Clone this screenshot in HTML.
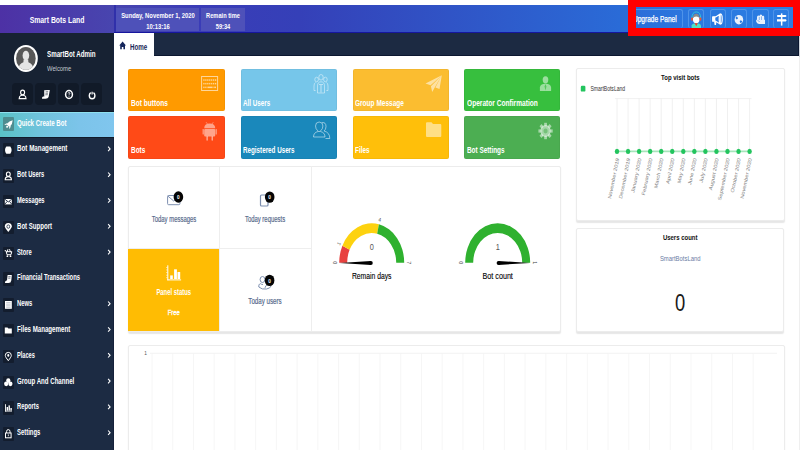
<!DOCTYPE html>
<html><head><meta charset="utf-8">
<style>
*{margin:0;padding:0;box-sizing:border-box}
html,body{width:800px;height:450px;overflow:hidden;background:#fff;font-family:"Liberation Sans",sans-serif}
.a{position:absolute}
.t{position:absolute;white-space:nowrap;line-height:1}
.c{position:absolute;white-space:nowrap;line-height:1;text-align:center;width:200px}
#hdr{left:0;top:5px;width:800px;height:28px;background:linear-gradient(to right,#4d31a5 0px,#4845af 114px,#3a3cb7 200px,#3540b8 300px,#2f58c9 480px,#2a6bd7 620px,#2b79e0 700px,#2b7de2 800px)}
.hbox{position:absolute;top:7.5px;height:23px;background:#4e51b9;}
.ht{color:#fff;font-size:8px;font-weight:bold}
#side{left:0;top:33px;width:114px;height:417px;background:#1c2b43}
#prof{left:0;top:33px;width:114px;height:78px;background:#172233}
.pb{position:absolute;top:82.5px;width:20.5px;height:22px;background:#111a28;border-radius:4px}
#qc{left:0;top:110.8px;width:114px;height:27.4px;background:linear-gradient(to right,#5ac2c6,#6fc3dc 35%,#7cc4ea 70%,#80c6ee);border-top:1.2px solid #0f1828;border-bottom:1.2px solid #101a2a;box-shadow:inset 0 1px 0 #8fe0ee}
.mi{position:absolute;left:2.5px;width:11.5px;height:14px;background:#131d2e;border-radius:1px}
.mt{position:absolute;left:16.5px;color:#fff;font-size:8.6px;font-weight:bold;white-space:nowrap;line-height:1;transform-origin:0 50%;transform:scaleX(.68)}
.ch{position:absolute;left:107px;color:#dfe6ee;font-size:7px;line-height:1}
#strip{left:114px;top:33px;width:685px;height:23px;background:#1c2a42;border-bottom:1px solid #0c1730;border-right:1px solid #0c1730}
#tab{left:114px;top:33px;width:40px;height:24px;background:#fff}
.card{position:absolute;border-radius:2px;box-shadow:inset 0 0 0 .8px rgba(0,0,0,.05)}
.cl{position:absolute;left:2.4px;color:#fff;font-size:9.2px;font-weight:bold;line-height:1;white-space:nowrap;transform-origin:0 50%;transform:scaleX(.705)}
.panel{position:absolute;background:#fff;border:1px solid #ececec;border-radius:2px;box-shadow:0 1.5px 1.2px rgba(0,0,0,.1)}
.st{color:#5b6b86;font-size:8px}
.badge{position:absolute;width:9px;height:10px;border-radius:50%;background:#0a0a0a;color:#fff;font-size:5.5px;line-height:10px;text-align:center;font-weight:bold}
</style></head><body>
<!-- header -->
<div id="hdr" class="a"></div>
<div class="a" style="left:114px;top:5px;width:2px;height:28px;background:#3030aa"></div>
<div class="c" style="left:-43.4px;top:15.5px;color:#fff;font-size:9px;font-weight:bold;transform:scaleX(.76)">Smart Bots Land</div>
<div class="hbox" style="left:116px;width:82.7px"></div>
<div class="hbox" style="left:201px;width:44px"></div>
<div class="c ht" style="left:57.5px;top:11.5px;transform:scaleX(.73)">Sunday, November 1, 2020</div>
<div class="c ht" style="left:57.5px;top:23px;transform:scaleX(.73)">10:13:16</div>
<div class="c ht" style="left:122.6px;top:11.5px;transform:scaleX(.71)">Remain time</div>
<div class="c ht" style="left:122.6px;top:23px;transform:scaleX(.71)">59:34</div>

<!-- header buttons -->
<div class="a" style="left:628px;top:9px;width:55px;height:19px;border:1px solid #4e93e9;border-bottom:none;border-radius:2.5px"></div>
<div class="t" style="left:633.4px;top:15.8px;color:#fff;font-size:8.2px;transform-origin:0 50%;transform:scaleX(.8);-webkit-text-stroke:.25px #fff">Upgrade Panel</div>
<div class="a" style="left:688.3px;top:9px;width:16.2px;height:19px;border:1px solid #4e93e9;border-bottom:none;border-radius:2.5px"></div>
<div class="a" style="left:709.5px;top:9px;width:16.3px;height:19px;border:1px solid #4e93e9;border-bottom:none;border-radius:2.5px"></div>
<div class="a" style="left:730.6px;top:9px;width:16.2px;height:19px;border:1px solid #4e93e9;border-bottom:none;border-radius:2.5px"></div>
<div class="a" style="left:752.2px;top:9px;width:16.4px;height:19px;border:1px solid #4e93e9;border-bottom:none;border-radius:2.5px"></div>
<div class="a" style="left:773.4px;top:9px;width:16px;height:19px;border:1px solid #4e93e9;border-bottom:none;border-radius:2.5px"></div>
<svg class="a" style="left:0;top:0" width="800" height="40" viewBox="0 0 800 40">
  <!-- support avatar -->
  <path d="M691.9 18.5 Q691.9 11.9 696.3 11.9 Q700.7 11.9 700.7 18.5" stroke="#33c4d8" stroke-width="1" fill="none"/>
  <path d="M691.6 28 L691.6 25.6 Q692.4 23.2 696.3 23.2 Q700.2 23.2 701 25.6 L701 28Z" fill="#4fe2c8"/>
  <ellipse cx="696.2" cy="19.2" rx="3.3" ry="3.9" fill="#fff"/>
  <path d="M692.9 18.3 Q692.9 13.7 696.2 13.7 Q699.5 13.7 699.5 18.3 Q698.6 16.6 696.2 16.4 Q693.9 16.6 692.9 18.3Z" fill="#8a8a8a"/>
  <rect x="691.2" y="17.6" width="1.8" height="3.1" rx=".7" fill="#f0542d"/>
  <rect x="699.5" y="17.6" width="1.8" height="3.1" rx=".7" fill="#f0542d"/>
  <path d="M694.6 23.3 L697.9 23.3 L696.25 26.2Z" fill="#f04424"/>
  <!-- megaphone -->
  <g fill="none" stroke="#fff" stroke-width="1.2" stroke-linejoin="round">
    <path d="M712.7 16.9 L715.6 16.9 L720.2 14.1 L720.2 23.9 L715.6 21.2 L712.7 21.2 Z"/>
    <ellipse cx="720.7" cy="19" rx="1.5" ry="4.9"/>
  </g>
  <rect x="712.7" y="16.9" width="2.6" height="4.3" fill="#fff"/>
  <path d="M714.1 21.2 L716.4 21.2 L716 24.9 L714.6 24.9 Z" fill="#fff"/>
  <!-- globe -->
  <ellipse cx="738.9" cy="19.7" rx="4.3" ry="4.8" fill="#e9f1fc"/>
  <path d="M736.2 16.6 Q737.8 16.8 738 18.4 Q737.2 19.6 735.9 19 Q735.4 17.6 736.2 16.6Z M740 20.6 Q741.8 20 742.3 21.6 Q741.5 23.4 740.2 22.8 Q739.4 21.8 740 20.6Z" fill="#2b7be0"/>
  <!-- hand -->
  <path d="M757 17.2 Q757 15.4 758.4 15.4 Q759.2 15.4 759.4 16.2 Q759.6 14.2 761 14.4 Q762.2 14.6 762.2 16 Q762.8 15.4 763.6 15.8 Q764.4 16.4 764.2 17.6 L764.2 20 L765 19.6 L765 24 L759 24 Q756.8 23.6 756.3 21.8 Q755.7 20 757 19.4 Z" fill="#e9f1fc"/>
  <path d="M759.3 17 L759.3 20 M761.5 16.4 L761.5 20 M757.5 20.5 Q759 20.6 759.6 22" stroke="#2b7be0" stroke-width=".5" fill="none"/>
  <!-- signpost -->
  <rect x="780.9" y="13.4" width="1.5" height="12.2" fill="#fff"/>
  <path d="M777.2 14.9 L785.6 14.9 L786.7 16 L785.6 17.1 L777.2 17.1 Z" fill="#fff"/>
  <path d="M777 19.2 L785.8 19.2 L786.7 20.3 L785.8 21.4 L777 21.4 Z" fill="#fff"/>
</svg>

<!-- sidebar -->
<div id="side" class="a"></div>
<div id="prof" class="a"></div>
<div class="a" style="left:113px;top:33px;width:1px;height:417px;background:#15213a"></div>
<svg class="a" style="left:0;top:33px" width="114" height="78" viewBox="0 33 114 78">
  <ellipse cx="25.9" cy="58.4" rx="11.9" ry="13.5" fill="#fff"/>
  <ellipse cx="25.9" cy="58.4" rx="9.8" ry="11.4" fill="#575757"/>
  <clipPath id="av"><ellipse cx="25.9" cy="58.4" rx="9.8" ry="11.4"/></clipPath>
  <g clip-path="url(#av)" fill="#e4e4e4">
    <ellipse cx="25.9" cy="55.6" rx="3.3" ry="4.9"/>
    <path d="M23.6 59.5 L23.4 62.2 Q18.5 63.5 17.5 72 L34.3 72 Q33.3 63.5 28.4 62.2 L28.2 59.5Z"/>
  </g>
</svg>
<div class="t" style="left:46.8px;top:49.5px;color:#fff;font-size:8.6px;font-weight:bold;transform-origin:0 50%;transform:scaleX(.72)">SmartBot Admin</div>
<div class="t" style="left:46.8px;top:65px;color:#c3c8d0;font-size:7px;transform-origin:0 50%;transform:scaleX(.83)">Welcome</div>
<div class="pb" style="left:12.3px"></div>
<div class="pb" style="left:35.3px"></div>
<div class="pb" style="left:58.3px"></div>
<div class="pb" style="left:81.3px"></div>
<svg class="a" style="left:0;top:80px" width="114" height="30" viewBox="0 80 114 30">
  <g fill="none" stroke="#fff" stroke-width="1.1">
    <ellipse cx="22.6" cy="92.4" rx="2" ry="2.3"/>
    <path d="M19.2 98.6 L19.6 96.6 Q20.2 95.2 22.6 95.2 Q25 95.2 25.6 96.6 L26 98.6 Z"/>
    <ellipse cx="69" cy="94.5" rx="3.4" ry="3.9" stroke-width="1.5"/>
    <path d="M90.7 92.6 Q89.3 93.5 89.3 95.4 Q89.3 98.7 92.1 98.7 Q94.9 98.7 94.9 95.4 Q94.9 93.5 93.5 92.6" stroke-width="1.4"/>
  </g>
  <path d="M92.1 91.8 L92.1 94.6" stroke="#fff" stroke-width="1.2"/>
  <path d="M44.2 90.3 L49.8 90.1 L48.6 97 Q48 98.8 45.5 98.8 L42 98.8 Q41.6 97.3 43 96.6 L44.3 96.6 Z" fill="#fff"/>
  <path d="M45.6 91.8 L48.2 91.7 M45.5 93.3 L48 93.2 M45.3 94.8 L47.8 94.7" stroke="#111a28" stroke-width=".55"/>
  <path d="M68.1 93.4 Q68.1 92.5 69 92.5 Q69.9 92.5 69.9 93.3 Q69.9 94 69 94.5 L69 95.3" fill="none" stroke="#fff" stroke-width=".8"/>
  <rect x="68.6" y="95.9" width=".8" height=".8" fill="#fff"/>
</svg>

<div id="qc" class="a"></div>
<div class="a" style="left:2.5px;top:117.4px;width:11.5px;height:13.8px;background:#4e8d90;border-radius:1px"></div>
<svg class="a" style="left:2.5px;top:117.4px" width="12" height="14" viewBox="0 0 12 14"><g transform="rotate(40 6 7.5)" fill="#fff"><path d="M6 1.8 Q8.2 4.2 8 9 L4 9 Q3.8 4.2 6 1.8Z"/><path d="M4.1 6.8 L2.4 10.6 L4.1 9.6Z M7.9 6.8 L9.6 10.6 L7.9 9.6Z"/><rect x="5.1" y="9.4" width="1.8" height="2"/></g></svg>
<div class="mt" style="top:119.2px;transform:scaleX(.71)">Quick Create Bot</div>


<div class="mi" style="top:143.3px;height:13.6px"></div>
<div class="mt" style="top:144.3px;transform:scaleX(0.727)">Bot Management</div>
<div class="mi" style="top:169.1px;height:13.6px"></div>
<div class="mt" style="top:170.1px;transform:scaleX(0.671)">Bot Users</div>
<div class="mi" style="top:194.9px;height:13.6px"></div>
<div class="mt" style="top:195.9px;transform:scaleX(0.671)">Messages</div>
<div class="mi" style="top:220.7px;height:13.6px"></div>
<div class="mt" style="top:221.7px;transform:scaleX(0.706)">Bot Support</div>
<div class="mi" style="top:246.5px;height:13.6px"></div>
<div class="mt" style="top:247.5px;transform:scaleX(0.673)">Store</div>
<div class="mi" style="top:272.3px;height:13.6px"></div>
<div class="mt" style="top:273.3px;transform:scaleX(0.68)">Financial Transactions</div>
<div class="mi" style="top:298.1px;height:13.6px"></div>
<div class="mt" style="top:299.1px;transform:scaleX(0.68)">News</div>
<div class="mi" style="top:323.9px;height:13.6px"></div>
<div class="mt" style="top:324.9px;transform:scaleX(0.714)">Files Management</div>
<div class="mi" style="top:349.7px;height:13.6px"></div>
<div class="mt" style="top:350.7px;transform:scaleX(0.656)">Places</div>
<div class="mi" style="top:375.5px;height:13.6px"></div>
<div class="mt" style="top:376.5px;transform:scaleX(0.708)">Group And Channel</div>
<div class="mi" style="top:401.3px;height:13.6px"></div>
<div class="mt" style="top:402.3px;transform:scaleX(0.674)">Reports</div>
<div class="mi" style="top:427.1px;height:13.6px"></div>
<div class="mt" style="top:428.1px;transform:scaleX(0.688)">Settings</div>
<!-- tab strip -->
<div id="strip" class="a"></div>
<div id="tab" class="a"></div>
<div class="a" style="left:114px;top:31.6px;width:686px;height:1.4px;background:#16169e"></div>
<svg class="a" style="left:119px;top:40.5px" width="8" height="9" viewBox="0 0 8 9"><path d="M0.2 4.4 L3.6 0.4 L7 4.4 L6 4.4 L6 8.3 L4.4 8.3 L4.4 6 L2.8 6 L2.8 8.3 L1.2 8.3 L1.2 4.4Z" fill="#14265c"/></svg>
<div class="t" style="left:129.7px;top:43px;color:#1c2a58;font-size:8.6px;font-weight:bold;transform-origin:0 50%;transform:scaleX(.72)">Home</div>

<!-- cards -->
<div class="card" style="left:128.4px;top:68.6px;width:96.2px;height:42.6px;background:#ff9a00"><div class="cl" style="top:30px;transform:scaleX(0.717)">Bot buttons</div></div>
<div class="card" style="left:241px;top:68.6px;width:96.2px;height:42.6px;background:#76c6ea"><div class="cl" style="top:30px;transform:scaleX(0.681)">All Users</div></div>
<div class="card" style="left:353.1px;top:68.6px;width:96.2px;height:42.6px;background:#fbbd30"><div class="cl" style="top:30px;transform:scaleX(0.71)">Group Message</div></div>
<div class="card" style="left:464.2px;top:68.6px;width:96.2px;height:42.6px;background:#37bf3e"><div class="cl" style="top:30px;transform:scaleX(0.719)">Operator Confirmation</div></div>
<div class="card" style="left:128.4px;top:116.2px;width:96.2px;height:42.6px;background:#ff4a17"><div class="cl" style="top:30px;transform:scaleX(0.7)">Bots</div></div>
<div class="card" style="left:241px;top:116.2px;width:96.2px;height:42.6px;background:#1a88bb"><div class="cl" style="top:30px;transform:scaleX(0.682)">Registered Users</div></div>
<div class="card" style="left:353.1px;top:116.2px;width:96.2px;height:42.6px;background:#ffbf0a"><div class="cl" style="top:30px;transform:scaleX(0.7)">Files</div></div>
<div class="card" style="left:464.2px;top:116.2px;width:96.2px;height:42.6px;background:#4cae52"><div class="cl" style="top:30px;transform:scaleX(0.694)">Bot Settings</div></div>
<!-- middle panel -->
<div class="panel" style="left:128.4px;top:165.6px;width:432.3px;height:166.4px"></div>
<div class="a" style="left:219.3px;top:166px;width:1px;height:165px;background:#eeeeee"></div>
<div class="a" style="left:310.6px;top:166px;width:1px;height:165px;background:#eeeeee"></div>
<div class="a" style="left:129px;top:248.4px;width:182px;height:1px;background:#eeeeee"></div>
<div class="a" style="left:128.4px;top:248.8px;width:90.9px;height:82px;background:#ffbc03"></div>
<!-- right panels -->
<div class="panel" style="left:575.5px;top:68.4px;width:209px;height:153px"></div>
<div class="panel" style="left:575.7px;top:228.4px;width:208.8px;height:104px"></div>
<!-- bottom chart -->
<div class="panel" style="left:128.2px;top:345.3px;width:656.6px;height:120px"></div>

<svg class="a" style="left:0;top:0;font-family:'Liberation Sans',sans-serif" width="800" height="450" viewBox="0 0 800 450"><path d="M339.19 262.80 A32.51 39.50 0 0 1 342.41 245.66 L349.60 249.87 A24.53 29.80 0 0 0 347.17 262.80Z" fill="#e8413f"/>
<path d="M342.41 245.66 A32.51 39.50 0 0 1 378.93 224.29 L377.16 233.75 A24.53 29.80 0 0 0 349.60 249.87Z" fill="#fdd20f"/>
<path d="M378.93 224.29 A32.51 39.50 0 0 1 404.21 262.80 L396.23 262.80 A24.53 29.80 0 0 0 377.16 233.75Z" fill="#2fb12f"/>
<path d="M339.52 262.90 L370.90 264.95 L370.90 261.05 Z" fill="#000"/>
<ellipse cx="370.90" cy="263.00" rx="1.85" ry="1.95" fill="#000"/>
<text transform="translate(335.49,262.80) scale(0.823,1) rotate(-90.0)" font-size="5.4" fill="#444" text-anchor="middle" dominant-baseline="central">0</text>
<text transform="translate(339.07,243.71) scale(0.823,1) rotate(-64.3)" font-size="5.4" fill="#444" text-anchor="middle" dominant-baseline="central">1</text>
<text transform="translate(379.76,219.90) scale(0.823,1) rotate(12.9)" font-size="5.4" fill="#444" text-anchor="middle" dominant-baseline="central">4</text>
<text transform="translate(407.91,262.80) scale(0.823,1) rotate(90.0)" font-size="5.4" fill="#444" text-anchor="middle" dominant-baseline="central">7</text>
<text transform="translate(371.70,249.50) scale(0.8,1)" font-size="9.2" fill="#555" text-anchor="middle" font-weight="normal" >0</text>
<text transform="translate(371.70,279.10) scale(0.78,1)" font-size="8.7" fill="#000" text-anchor="middle" font-weight="normal" stroke="#000" stroke-width="0.12">Remain days</text>
<path d="M465.19 262.80 A32.51 39.50 0 0 1 530.21 262.80 L522.23 262.80 A24.53 29.80 0 0 0 473.17 262.80Z" fill="#2fb12f"/>
<path d="M529.88 262.90 L498.50 261.05 L498.50 264.95 Z" fill="#000"/>
<ellipse cx="498.50" cy="263.00" rx="1.85" ry="1.95" fill="#000"/>
<text transform="translate(461.49,262.80) scale(0.823,1) rotate(-90.0)" font-size="5.4" fill="#444" text-anchor="middle" dominant-baseline="central">0</text>
<text transform="translate(533.91,262.80) scale(0.823,1) rotate(90.0)" font-size="5.4" fill="#444" text-anchor="middle" dominant-baseline="central">1</text>
<text transform="translate(497.70,249.50) scale(0.8,1)" font-size="9.2" fill="#555" text-anchor="middle" font-weight="normal" >1</text>
<text transform="translate(497.70,279.10) scale(0.826,1)" font-size="8.7" fill="#000" text-anchor="middle" font-weight="normal" stroke="#000" stroke-width="0.12">Bot count</text>
<g fill="none" stroke="#7d8fb0" stroke-width="1"><rect x="167.6" y="195.5" width="12.3" height="9.2" rx="1"/><path d="M167.8 196 L173.7 201 L179.7 196"/></g>
<ellipse cx="178.4" cy="197" rx="4.8" ry="5.7" fill="#050505"/>
<text transform="translate(178.4,199.1) scale(.8,1)" font-size="6" font-weight="bold" fill="#fff" text-anchor="middle">0</text>
<text transform="translate(174.00,221.70) scale(0.69,1)" font-size="8.6" fill="#55688a" text-anchor="middle" font-weight="normal" stroke="#55688a" stroke-width="0.18">Today messages</text>
<g fill="none" stroke="#7d8fb0" stroke-width="1.2"><rect x="260.5" y="195" width="7.5" height="11" rx="1"/></g>
<ellipse cx="269.7" cy="197.1" rx="4.8" ry="5.7" fill="#050505"/>
<text transform="translate(269.7,199.2) scale(.8,1)" font-size="6" font-weight="bold" fill="#fff" text-anchor="middle">0</text>
<text transform="translate(265.00,221.70) scale(0.69,1)" font-size="8.6" fill="#55688a" text-anchor="middle" font-weight="normal" stroke="#55688a" stroke-width="0.18">Today requests</text>
<g fill="#fff"><rect x="167.3" y="265.3" width="1" height="15"/><rect x="167.3" y="279.4" width="13.8" height="1"/><rect x="170.2" y="275.4" width="2.6" height="3.6"/><rect x="174.1" y="269.3" width="2.8" height="9.7"/><rect x="177.5" y="272" width="2.7" height="7"/><rect x="166.3" y="267" width="1.2" height=".7"/><rect x="166.3" y="269.6" width="1.2" height=".7"/><rect x="166.3" y="272.2" width="1.2" height=".7"/><rect x="166.3" y="274.8" width="1.2" height=".7"/><rect x="166.3" y="277.4" width="1.2" height=".7"/></g>
<text transform="translate(173.75,294.60) scale(0.72,1)" font-size="8.2" fill="#fff" text-anchor="middle" font-weight="bold" >Panel status</text>
<text transform="translate(173.75,314.60) scale(0.78,1)" font-size="7.5" fill="#fff" text-anchor="middle" font-weight="normal" stroke="#fff" stroke-width="0.3">Free</text>
<g fill="none" stroke="#7d8fb0" stroke-width="1"><ellipse cx="262.5" cy="279.5" rx="2.4" ry="3"/><path d="M259.6 283.8 Q258.6 285 258.8 287 Q262 289.8 266.5 289 Q270.5 288.3 271 286"/><path d="M260.2 283.5 Q261.5 284.6 263 284.5"/><path d="M265 287.8 Q265.5 285 268 284.5"/></g>
<ellipse cx="269.6" cy="280.4" rx="4.8" ry="5.7" fill="#050505"/>
<text transform="translate(269.6,282.5) scale(.8,1)" font-size="6" font-weight="bold" fill="#fff" text-anchor="middle">0</text>
<text transform="translate(265.00,304.00) scale(0.72,1)" font-size="8.6" fill="#55688a" text-anchor="middle" font-weight="normal" stroke="#55688a" stroke-width="0.18">Today users</text>
<text transform="translate(680.30,79.60) scale(0.76,1)" font-size="7.9" fill="#111" text-anchor="middle" font-weight="bold" >Top visit bots</text>
<rect x="580.8" y="85.8" width="4.6" height="5.8" rx="1.2" fill="#23c45e"/>
<text transform="translate(590.40,90.90) scale(0.69,1)" font-size="7.3" fill="#333" text-anchor="start" font-weight="normal" >SmartBotsLand</text>
<line x1="615" y1="98.6" x2="751.5" y2="98.6" stroke="#ececec" stroke-width=".8"/>
<line x1="617.00" y1="98.6" x2="617.00" y2="154" stroke="#ececec" stroke-width=".8"/>
<line x1="628.05" y1="98.6" x2="628.05" y2="154" stroke="#ececec" stroke-width=".8"/>
<line x1="639.10" y1="98.6" x2="639.10" y2="154" stroke="#ececec" stroke-width=".8"/>
<line x1="650.15" y1="98.6" x2="650.15" y2="154" stroke="#ececec" stroke-width=".8"/>
<line x1="661.20" y1="98.6" x2="661.20" y2="154" stroke="#ececec" stroke-width=".8"/>
<line x1="672.25" y1="98.6" x2="672.25" y2="154" stroke="#ececec" stroke-width=".8"/>
<line x1="683.30" y1="98.6" x2="683.30" y2="154" stroke="#ececec" stroke-width=".8"/>
<line x1="694.35" y1="98.6" x2="694.35" y2="154" stroke="#ececec" stroke-width=".8"/>
<line x1="705.40" y1="98.6" x2="705.40" y2="154" stroke="#ececec" stroke-width=".8"/>
<line x1="716.45" y1="98.6" x2="716.45" y2="154" stroke="#ececec" stroke-width=".8"/>
<line x1="727.50" y1="98.6" x2="727.50" y2="154" stroke="#ececec" stroke-width=".8"/>
<line x1="738.55" y1="98.6" x2="738.55" y2="154" stroke="#ececec" stroke-width=".8"/>
<line x1="749.60" y1="98.6" x2="749.60" y2="154" stroke="#ececec" stroke-width=".8"/>
<line x1="617" y1="151.4" x2="749.6" y2="151.4" stroke="#a7e6bb" stroke-width="1.6"/>
<ellipse cx="617.00" cy="151.4" rx="2.2" ry="2.6" fill="#23c45e"/>
<ellipse cx="628.05" cy="151.4" rx="2.2" ry="2.6" fill="#23c45e"/>
<ellipse cx="639.10" cy="151.4" rx="2.2" ry="2.6" fill="#23c45e"/>
<ellipse cx="650.15" cy="151.4" rx="2.2" ry="2.6" fill="#23c45e"/>
<ellipse cx="661.20" cy="151.4" rx="2.2" ry="2.6" fill="#23c45e"/>
<ellipse cx="672.25" cy="151.4" rx="2.2" ry="2.6" fill="#23c45e"/>
<ellipse cx="683.30" cy="151.4" rx="2.2" ry="2.6" fill="#23c45e"/>
<ellipse cx="694.35" cy="151.4" rx="2.2" ry="2.6" fill="#23c45e"/>
<ellipse cx="705.40" cy="151.4" rx="2.2" ry="2.6" fill="#23c45e"/>
<ellipse cx="716.45" cy="151.4" rx="2.2" ry="2.6" fill="#23c45e"/>
<ellipse cx="727.50" cy="151.4" rx="2.2" ry="2.6" fill="#23c45e"/>
<ellipse cx="738.55" cy="151.4" rx="2.2" ry="2.6" fill="#23c45e"/>
<ellipse cx="749.60" cy="151.4" rx="2.2" ry="2.6" fill="#23c45e"/>
<text transform="translate(619.20,158.8) scale(0.823,1) rotate(-76)" font-size="5.85" fill="#808080" text-anchor="end">November 2019</text>
<text transform="translate(630.25,158.8) scale(0.823,1) rotate(-76)" font-size="5.85" fill="#808080" text-anchor="end">December 2019</text>
<text transform="translate(641.30,158.8) scale(0.823,1) rotate(-76)" font-size="5.85" fill="#808080" text-anchor="end">January 2020</text>
<text transform="translate(652.35,158.8) scale(0.823,1) rotate(-76)" font-size="5.85" fill="#808080" text-anchor="end">February 2020</text>
<text transform="translate(663.40,158.8) scale(0.823,1) rotate(-76)" font-size="5.85" fill="#808080" text-anchor="end">March 2020</text>
<text transform="translate(674.45,158.8) scale(0.823,1) rotate(-76)" font-size="5.85" fill="#808080" text-anchor="end">April 2020</text>
<text transform="translate(685.50,158.8) scale(0.823,1) rotate(-76)" font-size="5.85" fill="#808080" text-anchor="end">May 2020</text>
<text transform="translate(696.55,158.8) scale(0.823,1) rotate(-76)" font-size="5.85" fill="#808080" text-anchor="end">June 2020</text>
<text transform="translate(707.60,158.8) scale(0.823,1) rotate(-76)" font-size="5.85" fill="#808080" text-anchor="end">July 2020</text>
<text transform="translate(718.65,158.8) scale(0.823,1) rotate(-76)" font-size="5.85" fill="#808080" text-anchor="end">August 2020</text>
<text transform="translate(729.70,158.8) scale(0.823,1) rotate(-76)" font-size="5.85" fill="#808080" text-anchor="end">September 2020</text>
<text transform="translate(740.75,158.8) scale(0.823,1) rotate(-76)" font-size="5.85" fill="#808080" text-anchor="end">October 2020</text>
<text transform="translate(751.80,158.8) scale(0.823,1) rotate(-76)" font-size="5.85" fill="#808080" text-anchor="end">November 2020</text>
<text transform="translate(680.20,239.70) scale(0.76,1)" font-size="7.9" fill="#111" text-anchor="middle" font-weight="bold" >Users count</text>
<text transform="translate(680.20,261.10) scale(0.88,1)" font-size="6.7" fill="#6a7ca3" text-anchor="middle" font-weight="normal" >SmartBotsLand</text>
<text transform="translate(680.00,310.60) scale(0.8,1)" font-size="23" fill="#1a1a1a" text-anchor="middle" font-weight="normal" >0</text>
<text transform="translate(145.60,355.30) scale(0.8,1)" font-size="6" fill="#555" text-anchor="middle" font-weight="normal" >1</text>
<line x1="150" y1="353.3" x2="777" y2="353.3" stroke="#efefef" stroke-width=".8"/>
<line x1="152.00" y1="353.3" x2="152.00" y2="450" stroke="#f4f4f4" stroke-width=".8"/>
<line x1="172.73" y1="353.3" x2="172.73" y2="450" stroke="#f4f4f4" stroke-width=".8"/>
<line x1="193.46" y1="353.3" x2="193.46" y2="450" stroke="#f4f4f4" stroke-width=".8"/>
<line x1="214.19" y1="353.3" x2="214.19" y2="450" stroke="#f4f4f4" stroke-width=".8"/>
<line x1="234.92" y1="353.3" x2="234.92" y2="450" stroke="#f4f4f4" stroke-width=".8"/>
<line x1="255.65" y1="353.3" x2="255.65" y2="450" stroke="#f4f4f4" stroke-width=".8"/>
<line x1="276.38" y1="353.3" x2="276.38" y2="450" stroke="#f4f4f4" stroke-width=".8"/>
<line x1="297.11" y1="353.3" x2="297.11" y2="450" stroke="#f4f4f4" stroke-width=".8"/>
<line x1="317.84" y1="353.3" x2="317.84" y2="450" stroke="#f4f4f4" stroke-width=".8"/>
<line x1="338.57" y1="353.3" x2="338.57" y2="450" stroke="#f4f4f4" stroke-width=".8"/>
<line x1="359.30" y1="353.3" x2="359.30" y2="450" stroke="#f4f4f4" stroke-width=".8"/>
<line x1="380.03" y1="353.3" x2="380.03" y2="450" stroke="#f4f4f4" stroke-width=".8"/>
<line x1="400.76" y1="353.3" x2="400.76" y2="450" stroke="#f4f4f4" stroke-width=".8"/>
<line x1="421.49" y1="353.3" x2="421.49" y2="450" stroke="#f4f4f4" stroke-width=".8"/>
<line x1="442.22" y1="353.3" x2="442.22" y2="450" stroke="#f4f4f4" stroke-width=".8"/>
<line x1="462.95" y1="353.3" x2="462.95" y2="450" stroke="#f4f4f4" stroke-width=".8"/>
<line x1="483.68" y1="353.3" x2="483.68" y2="450" stroke="#f4f4f4" stroke-width=".8"/>
<line x1="504.41" y1="353.3" x2="504.41" y2="450" stroke="#f4f4f4" stroke-width=".8"/>
<line x1="525.14" y1="353.3" x2="525.14" y2="450" stroke="#f4f4f4" stroke-width=".8"/>
<line x1="545.87" y1="353.3" x2="545.87" y2="450" stroke="#f4f4f4" stroke-width=".8"/>
<line x1="566.60" y1="353.3" x2="566.60" y2="450" stroke="#f4f4f4" stroke-width=".8"/>
<line x1="587.33" y1="353.3" x2="587.33" y2="450" stroke="#f4f4f4" stroke-width=".8"/>
<line x1="608.06" y1="353.3" x2="608.06" y2="450" stroke="#f4f4f4" stroke-width=".8"/>
<line x1="628.79" y1="353.3" x2="628.79" y2="450" stroke="#f4f4f4" stroke-width=".8"/>
<line x1="649.52" y1="353.3" x2="649.52" y2="450" stroke="#f4f4f4" stroke-width=".8"/>
<line x1="670.25" y1="353.3" x2="670.25" y2="450" stroke="#f4f4f4" stroke-width=".8"/>
<line x1="690.98" y1="353.3" x2="690.98" y2="450" stroke="#f4f4f4" stroke-width=".8"/>
<line x1="711.71" y1="353.3" x2="711.71" y2="450" stroke="#f4f4f4" stroke-width=".8"/>
<line x1="732.44" y1="353.3" x2="732.44" y2="450" stroke="#f4f4f4" stroke-width=".8"/>
<line x1="753.17" y1="353.3" x2="753.17" y2="450" stroke="#f4f4f4" stroke-width=".8"/>
<rect x="201.6" y="76.5" width="16" height="14" fill="none" stroke="rgba(255,255,255,0.6)" stroke-width="1"/>
<rect x="203.30" y="79.30" width="1.25" height="1.5" fill="rgba(255,255,255,0.6)"/>
<rect x="205.25" y="79.30" width="1.25" height="1.5" fill="rgba(255,255,255,0.6)"/>
<rect x="207.20" y="79.30" width="1.25" height="1.5" fill="rgba(255,255,255,0.6)"/>
<rect x="209.15" y="79.30" width="1.25" height="1.5" fill="rgba(255,255,255,0.6)"/>
<rect x="211.10" y="79.30" width="1.25" height="1.5" fill="rgba(255,255,255,0.6)"/>
<rect x="213.05" y="79.30" width="1.25" height="1.5" fill="rgba(255,255,255,0.6)"/>
<rect x="215.00" y="79.30" width="1.25" height="1.5" fill="rgba(255,255,255,0.6)"/>
<rect x="203.30" y="82.90" width="1.25" height="1.5" fill="rgba(255,255,255,0.6)"/>
<rect x="205.25" y="82.90" width="1.25" height="1.5" fill="rgba(255,255,255,0.6)"/>
<rect x="207.20" y="82.90" width="1.25" height="1.5" fill="rgba(255,255,255,0.6)"/>
<rect x="209.15" y="82.90" width="1.25" height="1.5" fill="rgba(255,255,255,0.6)"/>
<rect x="211.10" y="82.90" width="1.25" height="1.5" fill="rgba(255,255,255,0.6)"/>
<rect x="213.05" y="82.90" width="1.25" height="1.5" fill="rgba(255,255,255,0.6)"/>
<rect x="215.00" y="82.90" width="1.25" height="1.5" fill="rgba(255,255,255,0.6)"/>
<rect x="203.3" y="86.6" width="1.25" height="1.5" fill="rgba(255,255,255,0.6)"/><rect x="205.25" y="86.6" width="1.25" height="1.5" fill="rgba(255,255,255,0.6)"/><rect x="207.4" y="86.6" width="5.2" height="1.5" fill="rgba(255,255,255,0.6)"/><rect x="213.5" y="86.6" width="1.25" height="1.5" fill="rgba(255,255,255,0.6)"/><rect x="215.0" y="86.6" width="1.0" height="1.5" fill="rgba(255,255,255,0.6)"/>
<g fill="none" stroke="rgba(255,255,255,0.5)" stroke-width="0.9"><ellipse cx="321" cy="77.3" rx="2.2" ry="2.8"/><ellipse cx="316.6" cy="79.5" rx="1.8" ry="2.3"/><ellipse cx="325.4" cy="79.5" rx="1.8" ry="2.3"/><path d="M317.5 93 L317.5 86 Q317.5 81.8 321 81.8 Q324.5 81.8 324.5 86 L324.5 93 Z"/><path d="M315.6 82.5 Q314 83 314 86 L314 90.5 L315.6 90.5"/><path d="M326.4 82.5 Q328 83 328 86 L328 90.5 L326.4 90.5"/></g>
<path d="M319 84.5 L323 84.5 M321 84.5 L321 92.5" stroke="rgba(255,255,255,0.5)" stroke-width="1.1"/>
<path d="M441.8 75.3 L425.5 83.4 L430.6 85.3 Z M441.8 75.3 L430.9 86.2 L432.2 91.9 L434.6 87.8 Z M441.8 75.3 L435.4 87.4 L439.5 88.9 Z" fill="rgba(255,255,255,0.55)"/>
<g fill="rgba(255,255,255,0.5)"><ellipse cx="545.5" cy="79.8" rx="2.8" ry="3.6"/><path d="M539.9 90.9 L539.9 87.5 Q540 84 545.5 83.8 Q551 84 551.1 87.5 L551.1 90.9 Z"/></g>
<path d="M545.5 84 L544.6 86.5 L545.5 90.5 L546.4 86.5 Z" fill="#37bf3e" opacity=".7"/>
<g fill="rgba(255,255,255,0.5)"><path d="M204.2 128.2 Q204.2 123.4 209.7 123.4 Q215.2 123.4 215.2 128.2 Z"/><rect x="204.2" y="128.9" width="11" height="7.6" rx="1"/><rect x="202.6" y="129" width="1.2" height="5.5" rx=".6"/><rect x="215.6" y="129" width="1.2" height="5.5" rx=".6"/><rect x="206.4" y="136" width="1.5" height="4.8" rx=".7"/><rect x="211.5" y="136" width="1.5" height="4.8" rx=".7"/><path d="M206 122 L207.3 124 M213.4 122 L212.1 124" stroke="rgba(255,255,255,.5)" stroke-width=".6"/></g>
<g fill="none" stroke="rgba(255,255,255,0.5)" stroke-width="1"><path d="M318 131 Q315.5 129 315.5 126 Q315.5 122 319.2 122 Q322.9 122 322.9 126 Q322.9 129 320.4 131"/><path d="M313.5 137 Q313.5 132.5 318 131.5 L320.4 131.5 Q325 132.5 325 137 Z"/><path d="M322 122.6 Q326 122 326 126.5 Q326 129.5 324 131 Q329.8 132.4 329.8 138.5 L325.5 138.5"/></g>
<g fill="rgba(255,255,255,0.5)"><path d="M426 123.2 Q426 122.2 427 122.2 L431.5 122.2 L433 124 L440.3 124 Q441.3 124 441.3 125 L441.3 136.1 Q441.3 137.1 440.3 137.1 L427 137.1 Q426 137.1 426 136.1 Z"/></g>
<g fill="rgba(255,255,255,0.5)"><g transform="translate(545.55 131.0) scale(0.87 1) translate(-545.55 -131.0)"><rect x="543.95" y="122.80" width="3.2" height="3.6" transform="rotate(0 545.55 131.0)"/><rect x="543.95" y="122.80" width="3.2" height="3.6" transform="rotate(45 545.55 131.0)"/><rect x="543.95" y="122.80" width="3.2" height="3.6" transform="rotate(90 545.55 131.0)"/><rect x="543.95" y="122.80" width="3.2" height="3.6" transform="rotate(135 545.55 131.0)"/><rect x="543.95" y="122.80" width="3.2" height="3.6" transform="rotate(180 545.55 131.0)"/><rect x="543.95" y="122.80" width="3.2" height="3.6" transform="rotate(225 545.55 131.0)"/><rect x="543.95" y="122.80" width="3.2" height="3.6" transform="rotate(270 545.55 131.0)"/><rect x="543.95" y="122.80" width="3.2" height="3.6" transform="rotate(315 545.55 131.0)"/><circle cx="545.55" cy="131.0" r="5.9"/></g></g>
<ellipse cx="545.55" cy="131.0" rx="2.1" ry="2.4" fill="#4cae52" opacity=".55"/>
<path d="M108.1 146.70 L110.1 148.90 L108.1 151.10" fill="none" stroke="#fff" stroke-width="1.1"/>
<path d="M108.1 172.50 L110.1 174.70 L108.1 176.90" fill="none" stroke="#fff" stroke-width="1.1"/>
<path d="M108.1 198.30 L110.1 200.50 L108.1 202.70" fill="none" stroke="#fff" stroke-width="1.1"/>
<path d="M108.1 224.10 L110.1 226.30 L108.1 228.50" fill="none" stroke="#fff" stroke-width="1.1"/>
<path d="M108.1 249.90 L110.1 252.10 L108.1 254.30" fill="none" stroke="#fff" stroke-width="1.1"/>
<path d="M108.1 301.50 L110.1 303.70 L108.1 305.90" fill="none" stroke="#fff" stroke-width="1.1"/>
<path d="M108.1 327.30 L110.1 329.50 L108.1 331.70" fill="none" stroke="#fff" stroke-width="1.1"/>
<path d="M108.1 353.10 L110.1 355.30 L108.1 357.50" fill="none" stroke="#fff" stroke-width="1.1"/>
<path d="M108.1 378.90 L110.1 381.10 L108.1 383.30" fill="none" stroke="#fff" stroke-width="1.1"/>
<path d="M108.1 404.70 L110.1 406.90 L108.1 409.10" fill="none" stroke="#fff" stroke-width="1.1"/>
<path d="M108.1 430.50 L110.1 432.70 L108.1 434.90" fill="none" stroke="#fff" stroke-width="1.1"/>
<path d="M6.3 146.4 L10.3 146.4 Q11.6 148.0 11.6 150.0 Q11.6 152.0 10.3 153.8 L6.3 153.8 Q5 152.0 5 150.0 Q5 148.0 6.3 146.4Z" fill="#fff"/>
<g fill="none" stroke="#fff" stroke-width="1.1"><ellipse cx="8.3" cy="174.20000000000002" rx="1.9" ry="2.2"/><path d="M5.2 179.8 Q5.2 176.60000000000002 8.3 176.60000000000002 Q11.4 176.60000000000002 11.4 179.8 Z"/></g>
<rect x="4.8" y="199.0" width="7" height="5.4" fill="#fff"/><path d="M4.8 199.2 L8.3 201.9 L11.8 199.2 M4.8 204.2 L7.3 201.29999999999998 M11.8 204.2 L9.3 201.29999999999998" stroke="#1b2940" stroke-width=".9" fill="none"/>
<path d="M8.3 231.9 L6 229.0 Q4.8 227.4 4.8 226.6 Q4.8 223.1 8.3 223.1 Q11.8 223.1 11.8 226.6 Q11.8 227.4 10.6 229.0 Z" fill="#fff"/><ellipse cx="8.3" cy="226.6" rx="1.4" ry="1.7" fill="none" stroke="#1b2940" stroke-width=".8"/>
<g fill="none" stroke="#fff" stroke-width="1"><path d="M4.7 250.7 L6 250.7 L7 254.7 L11 254.7 L11.8 251.7 L6.4 251.7"/><path d="M7 252.2 L8 249.2 M10.5 252.2 L9.5 249.2"/></g><circle cx="7.4" cy="256.2" r=".9" fill="#fff"/><circle cx="10.5" cy="256.2" r=".9" fill="#fff"/>
<path d="M7.6 275.0 L11.8 275.0 L11.3 280.5 Q11 283.0 8.5 283.0 L5 283.0 Q4.7 281.0 6.3 280.4 L7 280.4 Z" fill="#fff"/><path d="M8.3 276.7 L10.6 276.7 M8.2 278.2 L10.4 278.2" stroke="#1b2940" stroke-width=".6"/>
<rect x="5" y="301.0" width="6.8" height="7.8" fill="#fff"/><path d="M6.2 302.6 L10.6 302.6 M6.2 304.2 L10.6 304.2 M6.2 305.8 L10.6 305.8 M6.2 307.3 L10.6 307.3" stroke="#8a94a4" stroke-width=".5"/>
<path d="M4.8 327.6 L7.5 327.6 L8.4 328.6 L11.8 328.6 L11.8 333.6 L4.8 333.6 Z" fill="#fff"/>
<path d="M8.3 360.7 L6.2 357.79999999999995 Q5.3 356.4 5.3 355.4 Q5.3 352.4 8.3 352.4 Q11.3 352.4 11.3 355.4 Q11.3 356.4 10.4 357.79999999999995 Z" fill="none" stroke="#fff" stroke-width="1"/><ellipse cx="8.3" cy="355.4" rx="1" ry="1.3" fill="#fff"/>
<g fill="#fff"><ellipse cx="8.3" cy="380.6" rx="2.1" ry="2.4"/><ellipse cx="6.2" cy="383.80000000000007" rx="2.1" ry="2.4"/><ellipse cx="10.4" cy="383.80000000000007" rx="2.1" ry="2.4"/></g>
<g fill="#fff"><rect x="5" y="404.2" width=".9" height="7.3"/><rect x="5" y="410.7" width="7" height=".8"/><rect x="6.6" y="407.0" width="1.4" height="3.6"/><rect x="8.5" y="405.4" width="1.4" height="5.2"/><rect x="10.4" y="408.0" width="1.4" height="2.6"/></g>
<rect x="5.5" y="433.0" width="5.6" height="4.8" fill="none" stroke="#fff" stroke-width="1"/><path d="M6.6 433.0 L6.6 431.40000000000003 Q6.6 429.6 8.3 429.6 Q10 429.6 10 431.40000000000003 L10 433.0" fill="none" stroke="#fff" stroke-width="1"/><rect x="7.9" y="434.40000000000003" width=".8" height="1.8" fill="#fff"/></svg>

<div class="a" style="left:799px;top:33px;width:1px;height:24px;background:#cfd3da"></div>
<div class="a" style="left:799px;top:57px;width:1px;height:393px;background:#efefef"></div>
<!-- red annotation frame -->
<div class="a" style="left:628px;top:0;width:172px;height:36px;border-style:solid;border-color:#ff0000;border-width:7px 7px 8px 8px"></div>
</body></html>
